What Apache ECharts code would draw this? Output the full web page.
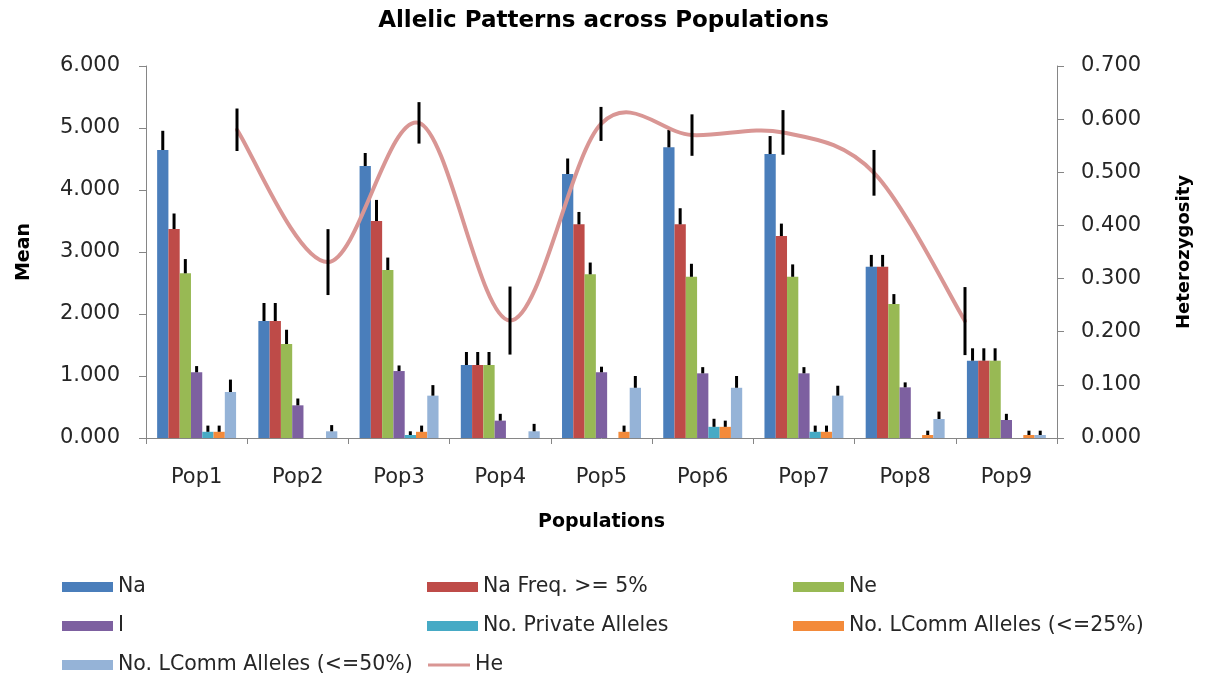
<!DOCTYPE html>
<html>
<head>
<meta charset="utf-8">
<script src="https://cdn.jsdelivr.net/npm/echarts@6/dist/echarts.min.js"></script>
<style>
  html, body { margin: 0; padding: 0; background: #fff; }
  #chart { width: 1207px; height: 678px; }
</style>
</head>
<body>
<div id="chart"></div>
<script>
// 数据
const categories = ['Pop1', 'Pop2', 'Pop3', 'Pop4', 'Pop5', 'Pop6', 'Pop7', 'Pop8', 'Pop9']

const na = [4.645, 1.887, 4.387, 1.177, 4.258, 4.688, 4.58, 2.763, 1.247]
const naErr = [0.31, 0.29, 0.21, 0.21, 0.25, 0.28, 0.29, 0.19, 0.2]
const naFreq5 = [3.371, 1.887, 3.5, 1.177, 3.446, 3.446, 3.258, 2.763, 1.247]
const naFreq5Err = [0.25, 0.29, 0.34, 0.21, 0.2, 0.26, 0.2, 0.19, 0.2]
const ne = [2.656, 1.516, 2.71, 1.177, 2.64, 2.6, 2.6, 2.161, 1.247]
const neErr = [0.23, 0.23, 0.2, 0.21, 0.19, 0.21, 0.2, 0.16, 0.2]
const shannonI = [1.06, 0.527, 1.08, 0.28, 1.06, 1.043, 1.043, 0.817, 0.29]
const shannonIErr = [0.1, 0.11, 0.09, 0.11, 0.09, 0.1, 0.1, 0.08, 0.1]
const privateAlleles = [0.1, 0, 0.048, 0, 0, 0.18, 0.1, 0, 0]
const privateErr = [0.1, 0, 0.06, 0, 0, 0.13, 0.1, 0, 0]
const lcomm25 = [0.1, 0, 0.1, 0, 0.1, 0.18, 0.1, 0.048, 0.048]
const lcomm25Err = [0.1, 0, 0.1, 0, 0.1, 0.1, 0.1, 0.07, 0.07]
const lcomm50 = [0.742, 0.108, 0.683, 0.108, 0.81, 0.81, 0.683, 0.306, 0.048]
const lcomm50Err = [0.2, 0.1, 0.17, 0.12, 0.19, 0.19, 0.16, 0.12, 0.07]
const he = [0.58, 0.331, 0.593, 0.221, 0.591, 0.57, 0.575, 0.499, 0.22]
const heErr = [0.04, 0.062, 0.039, 0.064, 0.032, 0.039, 0.042, 0.043, 0.064]

const meanTicks = [0, 1, 2, 3, 4, 5, 6]
const hetTicks = [0, 0.1, 0.2, 0.3, 0.4, 0.5, 0.6, 0.7]

const barNames = ['Na', 'Na Freq. >= 5%', 'Ne', 'I', 'No. Private Alleles', 'No. LComm Alleles (<=25%)', 'No. LComm Alleles (<=50%)']
const barValues = [na, naFreq5, ne, shannonI, privateAlleles, lcomm25, lcomm50]
const barErrors = [naErr, naFreq5Err, neErr, shannonIErr, privateErr, lcomm25Err, lcomm50Err]
const barColors = ['#4A7EBB', '#BE4B48', '#98B954', '#7D60A0', '#46AAC5', '#F38A3A', '#95B3D7']
const heColor = '#D99694'

const FONT = '"DejaVu Sans", sans-serif'
const TEXT = '#262626'
const AXIS = '#868686'
const CAT_GAP = 0.22

const chart = echarts.init(document.getElementById('chart'))

// 柱子误差线（只画正向）
const barErrData = []
barValues.forEach((vals, k) => {
  vals.forEach((v, i) => {
    if (barErrors[k][i] > 0) barErrData.push([i, k, v, barErrors[k][i]])
  })
})

const renderBarErr = (params, api) => {
  const cat = api.value(0)
  const k = api.value(1)
  const v = api.value(2)
  const e = api.value(3)
  const base = api.coord([cat, v])
  const top = api.coord([cat, v + e])
  const band = api.size([1, 0])[0]
  const bw = (band * (1 - CAT_GAP)) / barNames.length
  const x = base[0] + (k - (barNames.length - 1) / 2) * bw
  return {
    type: 'line',
    shape: { x1: x, y1: base[1], x2: x, y2: top[1] },
    style: { stroke: '#000', lineWidth: 3 },
  }
}

// Excel 式平滑线：Catmull-Rom，切线 = (后点 - 前点) / 6
const renderHeLine = (params, api) => {
  const i = api.value(0)
  const n = he.length
  if (i >= n - 1) return null
  const pt = j => {
    const c = Math.max(0, Math.min(n - 1, j))
    return api.coord([c, he[c]])
  }
  const p0 = pt(i - 1)
  const p1 = pt(i)
  const p2 = pt(i + 1)
  const p3 = pt(i + 2)
  return {
    type: 'bezierCurve',
    shape: {
      x1: p1[0], y1: p1[1],
      x2: p2[0], y2: p2[1],
      cpx1: p1[0] + (p2[0] - p0[0]) / 6,
      cpy1: p1[1] + (p2[1] - p0[1]) / 6,
      cpx2: p2[0] - (p3[0] - p1[0]) / 6,
      cpy2: p2[1] - (p3[1] - p1[1]) / 6,
    },
    style: { stroke: heColor, lineWidth: 4, fill: null, lineCap: 'round' },
  }
}

const renderHeErr = (params, api) => {
  const i = api.value(0)
  const v = api.value(1)
  const e = api.value(2)
  const lo = api.coord([i, v - e])
  const hi = api.coord([i, v + e])
  return {
    type: 'line',
    shape: { x1: lo[0], y1: lo[1], x2: hi[0], y2: hi[1] },
    style: { stroke: '#000', lineWidth: 3 },
  }
}

const legendPos = [
  { left: 62, top: 576 },
  { left: 427, top: 576 },
  { left: 793, top: 576 },
  { left: 62, top: 615 },
  { left: 427, top: 615 },
  { left: 793, top: 615 },
  { left: 62, top: 654 },
]

const legendText = { fontFamily: FONT, fontSize: 20.5, color: TEXT, lineHeight: 22 }

const legends = barNames.map((name, k) => ({
  data: [name],
  ...legendPos[k],
  padding: 0,
  itemWidth: 51,
  itemHeight: 10,
  icon: 'rect',
  textStyle: legendText,
  selectedMode: false,
}))
legends.push({
  data: [{ name: 'He', icon: 'rect' }],
  left: 428,
  top: 654,
  padding: 0,
  itemWidth: 42,
  itemHeight: 3,
  textStyle: legendText,
  selectedMode: false,
})

const axisLineStyle = { lineStyle: { color: AXIS, width: 1 } }
const axisLabel = { fontFamily: FONT, fontSize: 21, color: TEXT }
const axisName = { fontFamily: FONT, fontSize: 19, fontWeight: 'bold', color: '#000' }

const option = {
  backgroundColor: '#fff',
  animation: false,
  title: {
    text: 'Allelic Patterns across Populations',
    left: 'center',
    top: 5,
    textStyle: { fontFamily: FONT, fontSize: 23, fontWeight: 'bold', color: '#000' },
  },
  legend: legends,
  grid: [
    { left: 146, right: 150, top: 66, bottom: 240 },
    // He 折线单独一套横轴，点的位置与柱组错开
    { left: 237, right: 242, top: 66, bottom: 240 },
  ],
  xAxis: [
    {
      type: 'category',
      gridIndex: 0,
      data: categories,
      name: 'Populations',
      nameLocation: 'middle',
      nameGap: 75,
      nameTextStyle: axisName,
      axisLine: axisLineStyle,
      axisTick: { show: true, length: 6, lineStyle: { color: AXIS } },
      axisLabel: { ...axisLabel, margin: 29 },
    },
    {
      type: 'category',
      gridIndex: 1,
      data: categories,
      boundaryGap: false,
      show: false,
    },
  ],
  yAxis: [
    {
      type: 'value',
      gridIndex: 0,
      min: meanTicks[0],
      max: meanTicks[meanTicks.length - 1],
      interval: 1,
      name: 'Mean',
      nameLocation: 'middle',
      nameGap: 112,
      nameTextStyle: axisName,
      axisLine: { show: true, ...axisLineStyle },
      axisTick: { show: true, length: 7, lineStyle: { color: AXIS } },
      splitLine: { show: false },
      axisLabel: { ...axisLabel, margin: 26, formatter: v => v.toFixed(3) },
    },
    {
      type: 'value',
      gridIndex: 0,
      position: 'right',
      min: hetTicks[0],
      max: hetTicks[hetTicks.length - 1],
      interval: 0.1,
      name: 'Heterozygosity',
      nameLocation: 'middle',
      nameGap: 118,
      nameRotate: 90,
      nameTextStyle: { ...axisName, fontSize: 18 },
      axisLine: { show: true, ...axisLineStyle },
      axisTick: { show: true, length: 7, lineStyle: { color: AXIS } },
      splitLine: { show: false },
      axisLabel: { ...axisLabel, margin: 24, formatter: v => v.toFixed(3) },
    },
    {
      type: 'value',
      gridIndex: 1,
      min: hetTicks[0],
      max: hetTicks[hetTicks.length - 1],
      show: false,
    },
  ],
  series: [
    ...barNames.map((name, k) => ({
      name,
      type: 'bar',
      xAxisIndex: 0,
      yAxisIndex: 0,
      data: barValues[k],
      barGap: '0%',
      barCategoryGap: CAT_GAP * 100 + '%',
      itemStyle: { color: barColors[k] },
    })),
    {
      name: 'barErr',
      type: 'custom',
      xAxisIndex: 0,
      yAxisIndex: 0,
      data: barErrData,
      renderItem: renderBarErr,
      z: 5,
      silent: true,
    },
    {
      name: 'He',
      type: 'custom',
      xAxisIndex: 1,
      yAxisIndex: 2,
      data: he.map((v, i) => [i, v]),
      renderItem: renderHeLine,
      itemStyle: { color: heColor },
      z: 6,
      silent: true,
    },
    {
      name: 'heErr',
      type: 'custom',
      xAxisIndex: 1,
      yAxisIndex: 2,
      data: he.map((v, i) => [i, v, heErr[i]]),
      renderItem: renderHeErr,
      z: 7,
      silent: true,
    },
  ],
}

chart.setOption(option)
</script>
</body>
</html>
